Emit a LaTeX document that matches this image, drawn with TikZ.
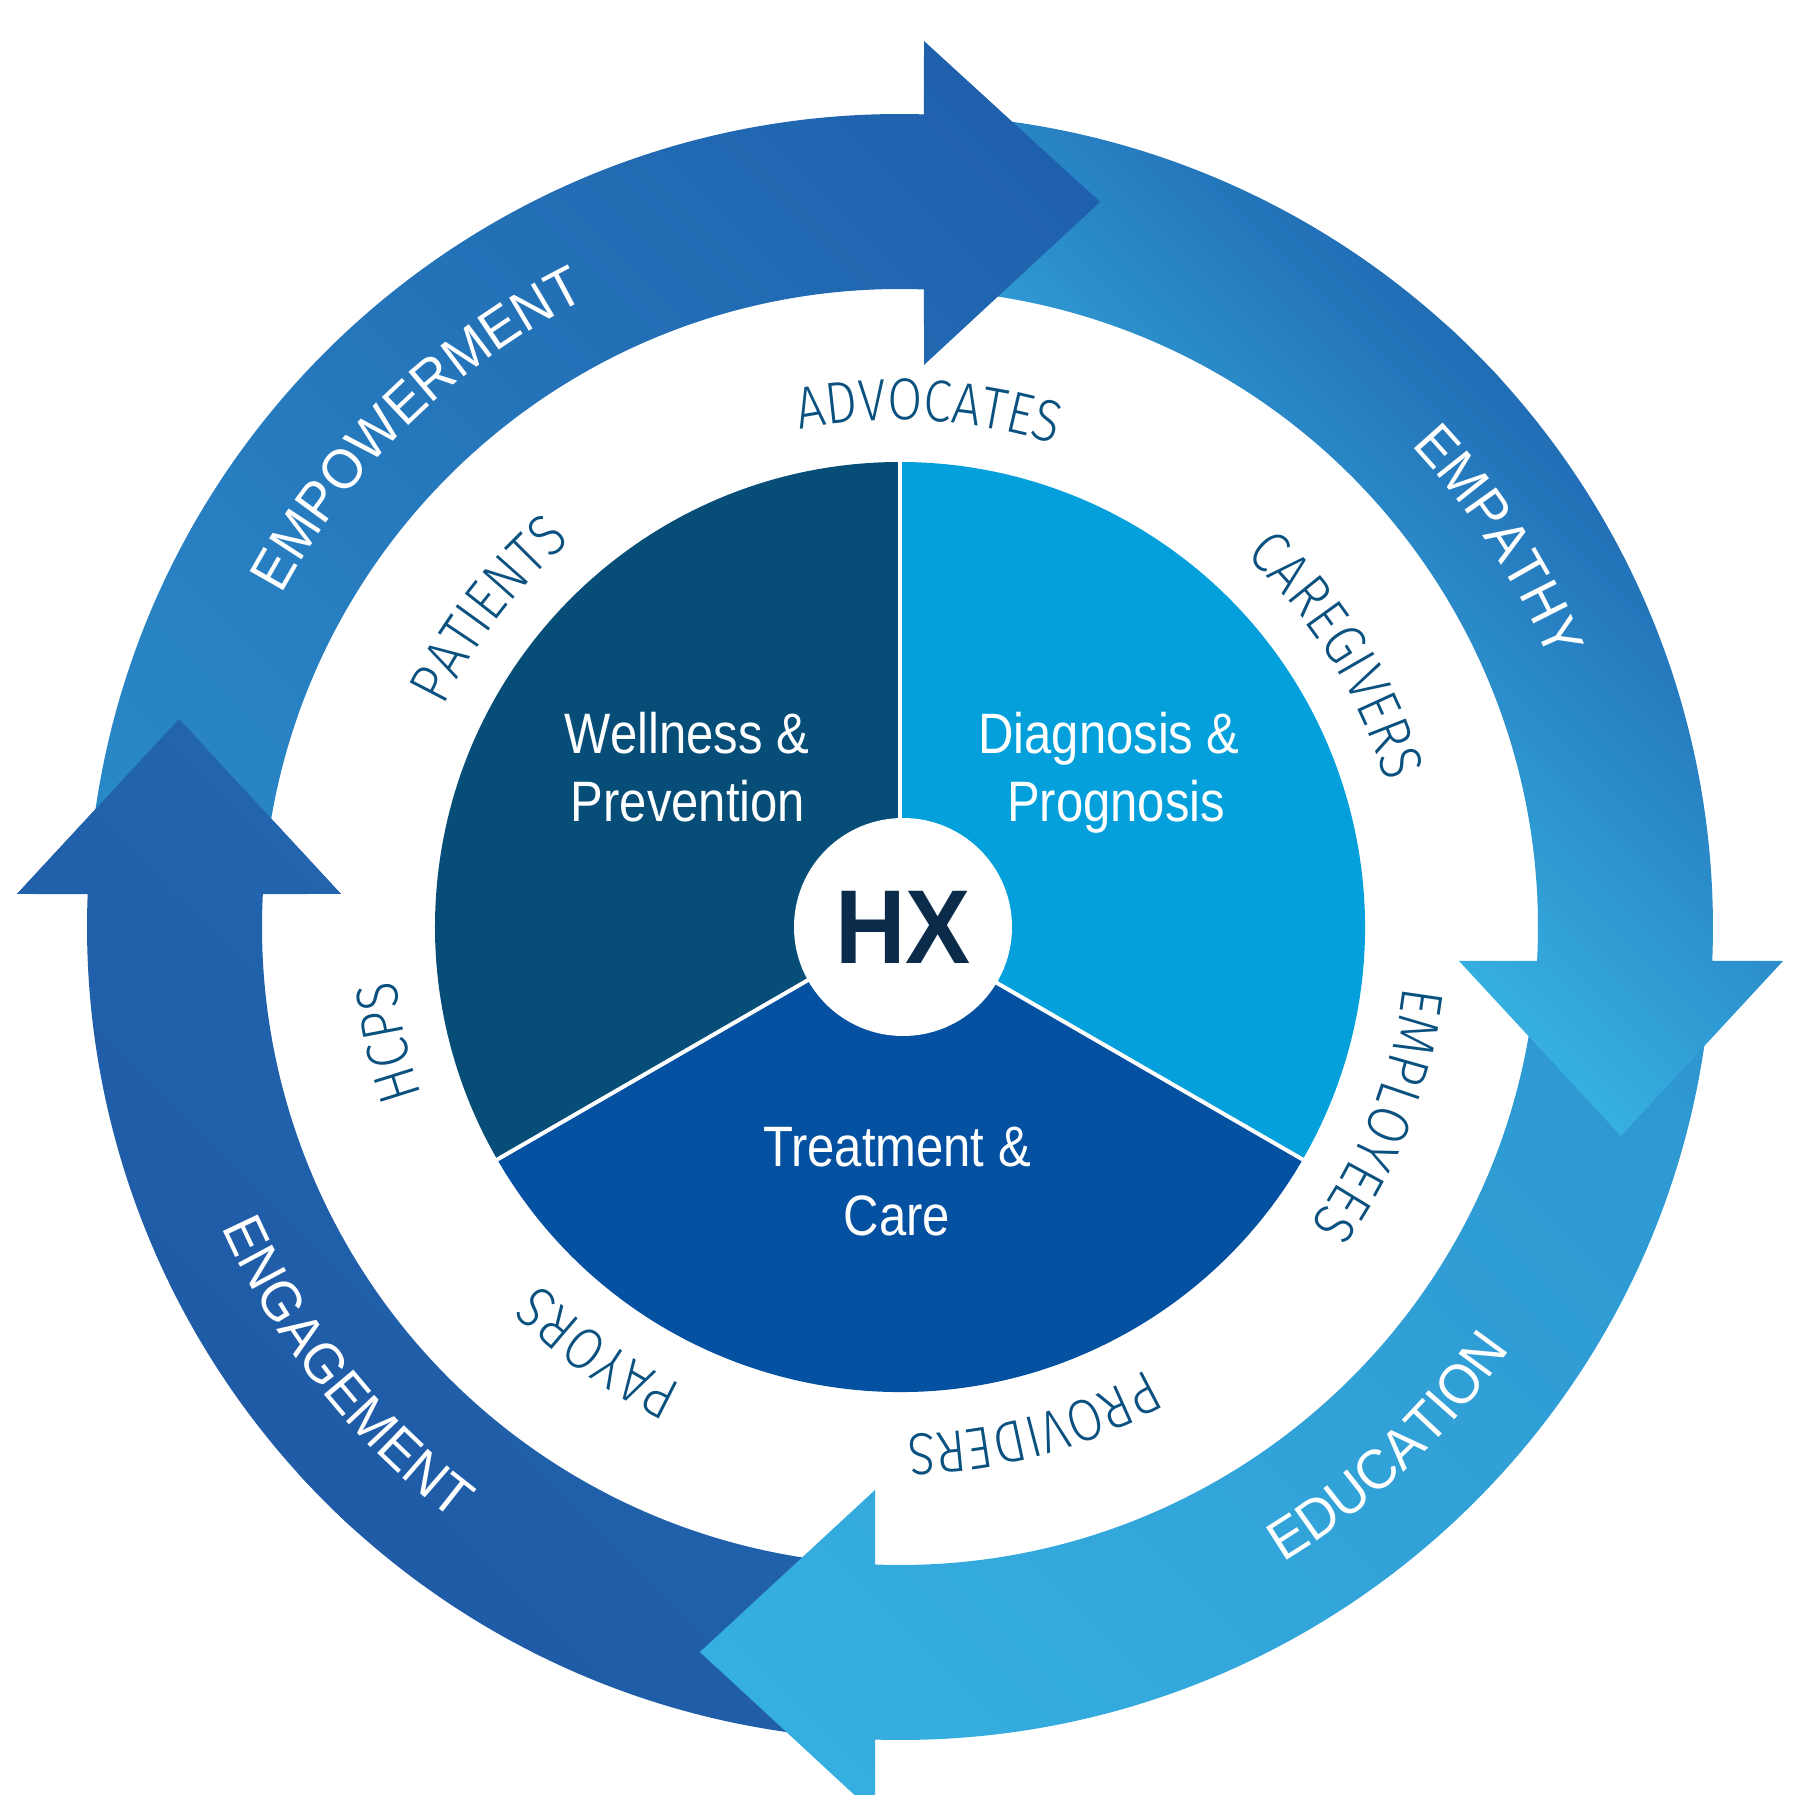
\documentclass[tikz,border=0pt]{standalone}
\usepackage{fontspec}
\setmainfont{Liberation Sans}
\newfontfamily\sectfam{Liberation Sans}[FakeStretch=0.86]
\IfFontExistsTF{Fira Sans Light}
  {\newfontfamily\lblfam{Fira Sans Light}[FakeStretch=0.86]\newcommand\lblsize{\fontsize{59}{62}\selectfont}}
  {\newfontfamily\lblfam{Liberation Sans}[FakeStretch=0.77]\newcommand\lblsize{\fontsize{56}{60}\selectfont}}
\newfontfamily\hxfam{Liberation Sans}[FakeStretch=0.93]
\newfontfamily\outfam{Liberation Sans}[FakeStretch=0.95]
\usetikzlibrary{decorations.text}
\definecolor{wellc}{HTML}{064E78}
\definecolor{diagc}{HTML}{03A0DB}
\definecolor{treatc}{HTML}{0450A1}
\definecolor{hxc}{HTML}{0A2B4A}
\definecolor{lblc}{HTML}{0B5180}
\definecolor{empA}{HTML}{2A8BC9}
\definecolor{empB}{HTML}{1F60AC}
\definecolor{emtA}{HTML}{36B0E1}
\definecolor{emtB}{HTML}{216DB5}
\definecolor{eduA}{HTML}{35AFE0}
\definecolor{eduB}{HTML}{2D95D0}
\definecolor{engA}{HTML}{1F5BA7}
\definecolor{engB}{HTML}{2264AE}
\newcommand\lblfont{\lblfam\lblsize\color{lblc}}
\newcommand\outfont{\outfam\fontsize{56}{60}\selectfont\color{white}}
% #1 path, #2 d1, #3 d2, #4 colour at d1, #5 colour at d2 (d measured towards north-east)
\newcommand\shadearrow[5]{%
  \begin{scope}
    \clip #1;
    \begin{scope}[transform canvas={rotate=-45}]
      \fill[#4] (-1400,-1400) rectangle (1400,#2+1);
      \fill[#5] (-1400,#3-1) rectangle (1400,1400);
      \shade[bottom color=#4, top color=#5] (-1400,#2) rectangle (1400,#3);
    \end{scope}
  \end{scope}}
\newcommand\cwlabel[4]{%
  \path[decorate, decoration={text along path, text align=center, text={|#3|#4}}]
    ({#1+45}:#2) arc[start angle={#1+45}, end angle={#1-45}, radius=#2];}
\newcommand\ccwlabel[4]{%
  \path[decorate, decoration={text along path, text align=center, text={|#3|#4}}]
    ({#1-45}:#2) arc[start angle={#1-45}, end angle={#1+45}, radius=#2];}
\tikzset{
  sectortext/.style={font=\sectfam\fontsize{57}{60}\selectfont, text=white, inner sep=0pt, anchor=base},
  sepline/.style={draw=white, line width=4pt}
}
\begin{document}
\begin{tikzpicture}[x=1pt,y=1pt]
\useasboundingbox (-900,-868) rectangle (917,927);
% arrows
\shadearrow{(-91.762:813) arc[start angle=-91.762, end angle=-182.326, radius=813] -- (-883,33) -- (-721,208) -- (-559,33) -- (-182.965:638) arc[start angle=-182.965, end angle=-92.246, radius=638] -- cycle}{-813}{-363}{engA}{engB}
\shadearrow{(-2.397:813) arc[start angle=-2.397, end angle=-91.762, radius=813] -- (-25,-887) -- (-200,-725) -- (-25,-563) -- (-92.246:638) arc[start angle=-92.246, end angle=-3.055, radius=638] -- cycle}{-654}{550}{eduA}{eduB}
\shadearrow{(88.308:813) arc[start angle=88.308, end angle=-2.397, radius=813] -- (883,-34) -- (721,-209) -- (559,-34) -- (-3.055:638) arc[start angle=-3.055, end angle=87.844, radius=638] -- cycle}{360}{813}{emtA}{emtB}
\shadearrow{(177.674:813) arc[start angle=177.674, end angle=88.308, radius=813] -- (24,886) -- (200,725) -- (24,562) -- (87.844:638) arc[start angle=87.844, end angle=177.035, radius=638] -- cycle}{-551}{654}{empA}{empB}
% engagement head again, over the tail of the empowerment arrow
\begin{scope}
  \clip (-883,33) -- (-721,208) -- (-559,33) -- cycle;
  \shadearrow{(-91.762:813) arc[start angle=-91.762, end angle=-182.326, radius=813] -- (-883,33) -- (-721,208) -- (-559,33) -- (-182.965:638) arc[start angle=-182.965, end angle=-92.246, radius=638] -- cycle}{-813}{-363}{engA}{engB}
\end{scope}
% pie
\fill[wellc] (0,0) -- (90:465) arc[start angle=90, end angle=210, radius=465] -- cycle;
\fill[diagc] (0,0) -- (-30:465) arc[start angle=-30, end angle=90, radius=465] -- cycle;
\fill[treatc] (0,0) -- (210:465) arc[start angle=210, end angle=330, radius=465] -- cycle;
\coordinate (s1) at (90:466);
\coordinate (s2) at (210:466);
\coordinate (s3) at (330:466);
\node[circle, minimum size=218pt, inner sep=0pt] (hub) at (0,0) {};
\draw[sepline] (hub.center) -- (s1);
\draw[sepline] (hub.center) -- (s2);
\draw[sepline] (hub.center) -- (s3);
\node[circle, fill=white, minimum size=218pt, inner sep=0pt,
      font=\hxfam\bfseries\fontsize{105}{110}\selectfont, text=hxc] (hx) at (3,0) {HX};
% sector texts
\node[sectortext] (w1) at (-213,173) {Wellness \&};
\node[sectortext] (w2) at (-212,105) {Prevention};
\node[sectortext] (d1) at (209,173) {Diagnosis \&};
\node[sectortext] (d2) at (216,105) {Prognosis};
\node[sectortext] (t1) at (-3,-239) {Treatment \&};
\node[sectortext] (t2) at (-3,-308) {Care};
% inner labels
\cwlabel{86.8}{507}{\lblfont}{ADVOCATES}
\cwlabel{31.8}{507}{\lblfont}{CAREGIVERS}
\cwlabel{-21.4}{507}{\lblfont}{EMPLOYEES}
\cwlabel{-75.0}{507}{\lblfont}{PROVIDERS}
\cwlabel{-125.3}{507}{\lblfont}{PAYORS}
\cwlabel{-167.3}{507}{\lblfont}{HCPS}
\cwlabel{142.4}{507}{\lblfont}{PATIENTS}
% outer labels
\cwlabel{134.1}{702}{\outfont}{EMPOWERMENT}
\cwlabel{32.8}{702}{\outfont}{EMPATHY}
\ccwlabel{-46.8}{742}{\outfont}{EDUCATION}
\ccwlabel{-141.5}{742}{\outfont}{ENGAGEMENT}
\end{tikzpicture}
\end{document}
